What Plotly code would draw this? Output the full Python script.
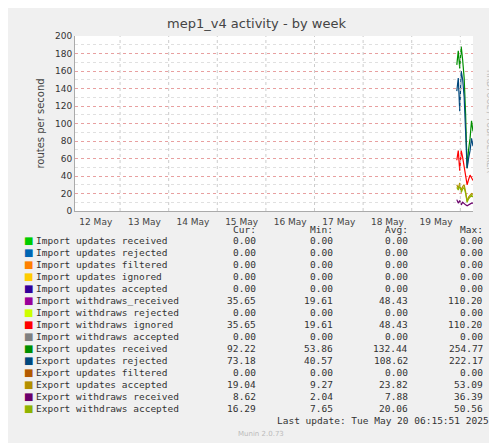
import plotly.graph_objects as go
import pandas as pd

times = pd.date_range("2025-05-19 22:15", "2025-05-20 06:15", periods=12)
export_upd_received = [167, 183, 163, 188, 172, 152, 110, 49, 70, 83, 103, 91]
export_upd_rejected = [137, 152, 114, 160, 150, 130, 90, 49, 60, 69, 83, 74]
import_wd_ignored = [58, 69, 46, 69, 61, 50, 38, 30, 36, 41, 38, 35]
export_upd_accepted = [30, 26, 32, 23, 28, 30, 22, 11, 16, 18, 20, 19]
export_wd_accepted = [27, 24, 29, 21, 25, 27, 20, 10, 14, 16, 18, 16]
export_wd_received = [13, 9, 12, 7, 10, 8, 7, 6, 7, 8, 9, 9]

legend_names = ["Import updates received", "Import updates rejected", "Import updates filtered",
                "Import updates ignored", "Import updates accepted", "Import withdraws_received",
                "Import withdraws rejected", "Import withdraws ignored", "Import withdraws accepted",
                "Export updates received", "Export updates rejected", "Export updates filtered",
                "Export updates accepted", "Export withdraws received", "Export withdraws accepted"]
colors = ["#00CC00", "#0066B3", "#FF8000", "#FFCC00", "#330099", "#990099", "#CCFF00", "#FF0000",
          "#808080", "#008F00", "#00487D", "#B35A00", "#B38F00", "#6B006B", "#8FB300"]
cur = ["0.00"]*5 + ["35.65", "0.00", "35.65", "0.00", "92.22", "73.18", "0.00", "19.04", "8.62", "16.29"]
mins = ["0.00"]*5 + ["19.61", "0.00", "19.61", "0.00", "53.86", "40.57", "0.00", "9.27", "2.04", "7.65"]
avgs = ["0.00"]*5 + ["48.43", "0.00", "48.43", "0.00", "132.44", "108.62", "0.00", "23.82", "7.88", "20.06"]
maxs = ["0.00"]*5 + ["110.20", "0.00", "110.20", "0.00", "254.77", "222.17", "0.00", "53.09", "36.39", "50.56"]
day_labels = ["12 May", "13 May", "14 May", "15 May", "16 May", "17 May", "18 May", "19 May"]

fig = go.Figure()
series = [(export_upd_received, "#008F00"), (export_upd_rejected, "#00487D"),
          (import_wd_ignored, "#FF0000"), (export_upd_accepted, "#B38F00"),
          (export_wd_accepted, "#8FB300"), (export_wd_received, "#6B006B")]
for vals, c in series:
    fig.add_trace(go.Scatter(x=times, y=vals, mode="lines", line=dict(color=c, width=1.2),
                             showlegend=False, hoverinfo="skip"))

start = pd.Timestamp("2025-05-12 01:45")
end = pd.Timestamp("2025-05-20 06:15")
days = pd.date_range("2025-05-12", "2025-05-20", freq="D")
mono = "DejaVu Sans Mono"
fig.update_layout(
    width=497, height=443, paper_bgcolor="#f0f0f0", plot_bgcolor="white",
    margin=dict(l=67, r=32, t=28, b=240),
    title=dict(text="mep1_v4 activity - by week", x=0.5, xanchor="center", y=0.975,
               font=dict(family="DejaVu Sans", size=13, color="#444")),
    xaxis=dict(range=[start, end], tickvals=[d + pd.Timedelta(hours=12) for d in days[:8]],
               ticktext=day_labels, showgrid=False, ticks="", showline=True, linecolor="#aaa",
               ticklabelstandoff=2,
               tickfont=dict(family="DejaVu Sans", size=9, color="#444")),
    yaxis=dict(range=[0, 200], dtick=20, showgrid=True, gridcolor="#e8a0a0", griddash="dot",
               minor=dict(dtick=10, showgrid=True, gridcolor="#e0e0e0", griddash="dot"),
               tickfont=dict(family="DejaVu Sans", size=9, color="#333"), zeroline=False,
               title=dict(text="routes per second", font=dict(family="DejaVu Sans", size=10, color="#444"),
                          standoff=8), showline=True, linecolor="#aaa"),
)
for d in days:
    fig.add_vline(x=d, line=dict(color="#ccc", width=1, dash="dot"))

def px(x): return (x - 67) / 398
def py(y): return (203 - y) / 175

ann = []
ann.append(dict(x=px(488), y=py(60), text="RRDTOOL / TOBI OETIKER", textangle=90, showarrow=False,
                font=dict(family="DejaVu Sans", size=8, color="#bbb"), xref="paper", yref="paper"))
for txt, xr in [("Cur:", 250), ("Min:", 327), ("Avg:", 402), ("Max:", 477)]:
    ann.append(dict(x=px(xr), y=py(229), text=txt, xanchor="right", showarrow=False,
                    font=dict(family=mono, size=9.5, color="#333"), xref="paper", yref="paper"))
for i, name in enumerate(legend_names):
    yy = py(240 + 12 * i)
    ann.append(dict(x=px(14), y=yy, text="■", xanchor="left", showarrow=False,
                    font=dict(family="DejaVu Sans", size=10, color=colors[i]), xref="paper", yref="paper"))
    ann.append(dict(x=px(26), y=yy, text=name, xanchor="left", showarrow=False,
                    font=dict(family=mono, size=9.5, color="#333"), xref="paper", yref="paper"))
    for vals, xr in [(cur, 250), (mins, 327), (avgs, 402), (maxs, 477)]:
        ann.append(dict(x=px(xr), y=yy, text=vals[i], xanchor="right", showarrow=False,
                        font=dict(family=mono, size=9.5, color="#333"), xref="paper", yref="paper"))
ann.append(dict(x=px(483), y=py(420), text="Last update: Tue May 20 06:15:51 2025", xanchor="right",
                showarrow=False, font=dict(family=mono, size=9.5, color="#333"), xref="paper", yref="paper"))
ann.append(dict(x=px(253), y=py(432), text="Munin 2.0.73", xanchor="center", showarrow=False,
                font=dict(family="DejaVu Sans", size=7, color="#bbb"), xref="paper", yref="paper"))
fig.update_layout(annotations=ann)
fig.write_html("out.html")
